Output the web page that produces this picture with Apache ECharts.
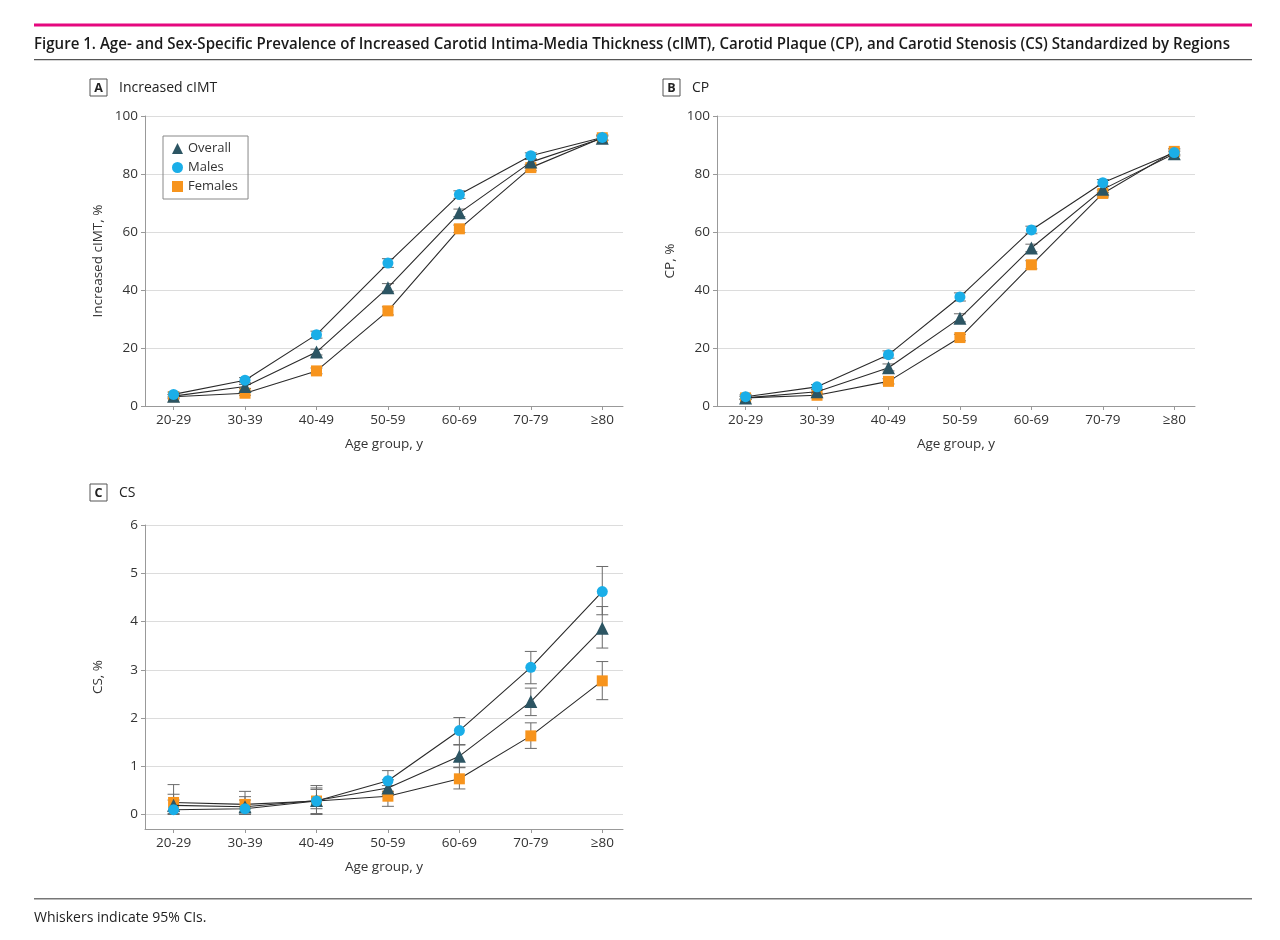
<!DOCTYPE html>
<html>
<head>
<meta charset="utf-8">
<script src="https://cdn.jsdelivr.net/npm/echarts@6/dist/echarts.min.js"></script>
<style>
html,body{margin:0;padding:0;background:#fff;}
#chart{width:1280px;height:940px;}
</style>
</head>
<body>
<div id="chart"></div>
<script>
// ---- data ----
const ageGroups = ['20-29', '30-39', '40-49', '50-59', '60-69', '70-79', '≥80'];

// Panel A: Increased cIMT, %
const cimtOverall = [3.4, 6.7, 18.6, 40.8, 66.6, 84.1, 92.3];
const cimtMales   = [4.0, 8.9, 24.6, 49.3, 72.9, 86.3, 92.6];
const cimtFemales = [3.2, 4.4, 12.1, 32.8, 61.1, 82.2, 92.5];
const cimtOverallLo = [2.8, 6.0, 17.6, 39.4, 65.3, 83.2, 91.6];
const cimtOverallHi = [4.0, 7.4, 19.6, 42.2, 67.9, 85.0, 93.0];
const cimtMalesLo   = [3.2, 8.0, 23.4, 47.8, 71.6, 85.3, 91.8];
const cimtMalesHi   = [4.8, 9.8, 25.8, 50.8, 74.2, 87.3, 93.4];
const cimtFemalesLo = [2.5, 3.7, 11.1, 31.4, 59.8, 81.1, 91.6];
const cimtFemalesHi = [3.9, 5.1, 13.1, 34.2, 62.4, 83.3, 93.4];

// Panel B: CP, %
const cpOverall = [2.8, 4.9, 13.2, 30.3, 54.5, 74.7, 87.0];
const cpMales   = [3.2, 6.6, 17.7, 37.6, 60.7, 77.0, 87.4];
const cpFemales = [2.8, 3.7, 8.5, 23.6, 48.7, 73.3, 87.8];
const cpOverallLo = [2.3, 4.2, 12.1, 29.0, 53.2, 73.6, 86.2];
const cpOverallHi = [3.3, 5.6, 14.5, 31.8, 55.8, 75.8, 87.8];
const cpMalesLo   = [2.5, 5.8, 16.5, 36.2, 59.4, 75.9, 86.5];
const cpMalesHi   = [3.9, 7.4, 19.0, 39.0, 62.0, 78.1, 88.3];
const cpFemalesLo = [2.2, 3.0, 7.6, 22.5, 47.3, 72.1, 86.8];
const cpFemalesHi = [3.4, 4.4, 9.4, 24.7, 50.1, 74.5, 88.8];

// Panel C: CS, %
const csOverall = [0.19, 0.16, 0.29, 0.55, 1.21, 2.34, 3.86];
const csMales   = [0.10, 0.12, 0.28, 0.70, 1.74, 3.05, 4.62];
const csFemales = [0.25, 0.21, 0.28, 0.38, 0.74, 1.63, 2.77];
const csOverallLo = [0.06, 0.05, 0.12, 0.40, 0.98, 2.05, 3.45];
const csOverallHi = [0.42, 0.37, 0.52, 0.72, 1.44, 2.62, 4.31];
const csMalesLo   = [0.00, 0.00, 0.00, 0.48, 1.45, 2.71, 4.14];
const csMalesHi   = [0.30, 0.30, 0.55, 0.91, 2.01, 3.38, 5.14];
const csFemalesLo = [0.02, 0.03, 0.02, 0.17, 0.53, 1.37, 2.38];
const csFemalesHi = [0.62, 0.48, 0.60, 0.60, 0.97, 1.90, 3.17];

const titleText = 'Figure 1. Age- and Sex-Specific Prevalence of Increased Carotid Intima-Media Thickness (cIMT), Carotid Plaque (CP), and Carotid Stenosis (CS) Standardized by Regions';
const footerText = 'Whiskers indicate 95% CIs.';

// ---- styles ----
const FONT = '"Open Sans", "Noto Sans", sans-serif';
const COL_OVERALL = '#2c5563';
const COL_MALES = '#1aaee8';
const COL_FEMALES = '#f7941d';
const LINE_COL = '#2a2a2a';
const TEXT_COL = '#333';

// title horizontal compression to match the condensed face of the original
const TITLE_FONT = '600 17px "Open Sans", sans-serif';
const TITLE_W = 1196;
const mctx = document.createElement('canvas').getContext('2d');
mctx.font = TITLE_FONT;
const titleScale = Math.min(1, TITLE_W / mctx.measureText(titleText).width);

const chart = echarts.init(document.getElementById('chart'), null, {renderer: 'canvas'});

const grids = [
  {left: 145, top: 116, width: 478, height: 290},
  {left: 717, top: 116, width: 478, height: 290},
  {left: 145, top: 525, width: 478, height: 304}
];

function xAxisDef(gi) {
  return {
    type: 'value', gridIndex: gi, min: -0.4, max: 6.29,
    name: 'Age group, y', nameLocation: 'middle', nameGap: 31,
    nameTextStyle: {fontFamily: FONT, fontSize: 13.5, color: TEXT_COL},
    axisLine: {show: true, onZero: false, lineStyle: {color: '#999', width: 1}},
    axisTick: {show: true, length: 4, lineStyle: {color: '#999'}, customValues: [0,1,2,3,4,5,6]},
    axisLabel: {customValues: [0,1,2,3,4,5,6], formatter: v => ageGroups[Math.round(v)], fontFamily: FONT, fontSize: 13.5, color: TEXT_COL, margin: 7},
    splitLine: {show: false}
  };
}
function yAxisDef(gi, name, min, max, ticks) {
  return {
    type: 'value', gridIndex: gi, min: min, max: max,
    name: name, nameLocation: 'middle', nameGap: 40,
    nameTextStyle: {fontFamily: FONT, fontSize: 13.5, color: TEXT_COL},
    axisLine: {show: true, onZero: false, lineStyle: {color: '#999', width: 1}},
    axisTick: {show: true, length: 4, lineStyle: {color: '#999'}, customValues: ticks},
    axisLabel: {customValues: ticks, fontFamily: FONT, fontSize: 13.5, color: TEXT_COL, margin: 7},
    splitLine: {show: true, lineStyle: {color: '#dcdcdc', width: 1}}
  };
}

function errSeries(gi, lo, hi) {
  return {
    type: 'custom', xAxisIndex: gi, yAxisIndex: gi, z: 1, silent: true,
    data: lo.map((l, i) => [i, l, hi[i]]),
    renderItem: function (params, api) {
      const x = api.value(0);
      const p1 = api.coord([x, api.value(1)]);
      const p2 = api.coord([x, api.value(2)]);
      const hw = 6;
      const st = {stroke: '#6a6a6a', lineWidth: 1};
      return {type: 'group', children: [
        {type: 'line', shape: {x1: p1[0], y1: p1[1], x2: p2[0], y2: p2[1]}, style: st},
        {type: 'line', shape: {x1: p1[0]-hw, y1: p1[1], x2: p1[0]+hw, y2: p1[1]}, style: st},
        {type: 'line', shape: {x1: p2[0]-hw, y1: p2[1], x2: p2[0]+hw, y2: p2[1]}, style: st}
      ]};
    }
  };
}

function lineSeries(gi, name, vals, symbol, size, color, z) {
  return {
    type: 'line', name: name, xAxisIndex: gi, yAxisIndex: gi, z: z,
    data: vals.map((v, i) => [i, v]),
    symbol: symbol, symbolSize: size, showSymbol: true,
    lineStyle: {color: LINE_COL, width: 1.1},
    itemStyle: {color: color, borderWidth: 0},
    emphasis: {disabled: true}, animation: false
  };
}

const panels = [
  {o: cimtOverall, m: cimtMales, f: cimtFemales, oL: cimtOverallLo, oH: cimtOverallHi, mL: cimtMalesLo, mH: cimtMalesHi, fL: cimtFemalesLo, fH: cimtFemalesHi},
  {o: cpOverall, m: cpMales, f: cpFemales, oL: cpOverallLo, oH: cpOverallHi, mL: cpMalesLo, mH: cpMalesHi, fL: cpFemalesLo, fH: cpFemalesHi},
  {o: csOverall, m: csMales, f: csFemales, oL: csOverallLo, oH: csOverallHi, mL: csMalesLo, mH: csMalesHi, fL: csFemalesLo, fH: csFemalesHi}
];

const series = [];
panels.forEach((p, gi) => {
  series.push(errSeries(gi, p.oL, p.oH));
  series.push(errSeries(gi, p.mL, p.mH));
  series.push(errSeries(gi, p.fL, p.fH));
  series.push(lineSeries(gi, 'Overall', p.o, 'triangle', 13, COL_OVERALL, 3));
  series.push(lineSeries(gi, 'Males', p.m, 'circle', 11, COL_MALES, 4));
  series.push(lineSeries(gi, 'Females', p.f, 'rect', 11, COL_FEMALES, 2));
});

function panelLabel(x, y, letter, text) {
  return [
    {type: 'rect', shape: {x: x, y: y, width: 17, height: 17}, style: {fill: '#fff', stroke: '#555', lineWidth: 1}},
    {type: 'text', x: x + 8.5, y: y + 9, style: {text: letter, font: 'bold 12.5px ' + FONT, fill: '#222', align: 'center', verticalAlign: 'middle'}},
    {type: 'text', x: x + 29, y: y + 9, style: {text: text, font: '14px ' + FONT, fill: '#222', align: 'left', verticalAlign: 'middle'}}
  ];
}

const option = {
  backgroundColor: '#fff',
  animation: false,
  grid: grids,
  xAxis: [xAxisDef(0), xAxisDef(1), xAxisDef(2)],
  yAxis: [
    yAxisDef(0, 'Increased cIMT, %', 0, 100, [0,20,40,60,80,100]),
    yAxisDef(1, 'CP, %', 0, 100, [0,20,40,60,80,100]),
    yAxisDef(2, 'CS, %', -0.3, 6, [0,1,2,3,4,5,6])
  ],
  legend: {
    left: 163, top: 136, orient: 'vertical',
    data: [{name: 'Overall', icon: 'triangle'}, {name: 'Males', icon: 'circle'}, {name: 'Females', icon: 'rect'}],
    itemWidth: 11, itemHeight: 11, itemGap: 6,
    padding: [6, 10, 6, 9],
    borderColor: '#888', borderWidth: 1,
    selectedMode: false,
    textStyle: {fontFamily: FONT, fontSize: 13, color: TEXT_COL}
  },
  graphic: [
    {type: 'rect', shape: {x: 34, y: 23.5, width: 1218, height: 3}, style: {fill: '#e5077e'}},
    {type: 'text', x: 34, y: 44, scaleX: titleScale, style: {text: titleText, font: TITLE_FONT, fill: '#1a1a1a', verticalAlign: 'middle'}},
    {type: 'rect', shape: {x: 34, y: 59, width: 1218, height: 1.3}, style: {fill: '#555'}},
    ...panelLabel(90, 79, 'A', 'Increased cIMT'),
    ...panelLabel(663, 79, 'B', 'CP'),
    ...panelLabel(90, 484, 'C', 'CS'),
    {type: 'rect', shape: {x: 34, y: 898, width: 1218, height: 1.5}, style: {fill: '#777'}},
    {type: 'text', x: 34, y: 918, style: {text: footerText, font: '14px ' + FONT, fill: '#222', verticalAlign: 'middle'}}
  ],
  series: series
};
chart.setOption(option);
</script>
</body>
</html>
